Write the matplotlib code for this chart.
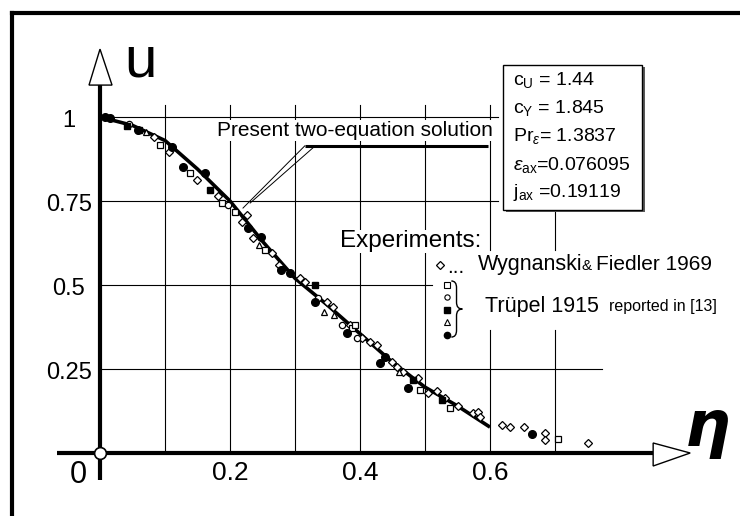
import matplotlib
matplotlib.use("Agg")
import matplotlib.pyplot as plt
from matplotlib.patches import Polygon, Rectangle, PathPatch
from matplotlib.path import Path
from matplotlib.lines import Line2D

plt.rcParams["font.family"] = ["Liberation Sans", "DejaVu Sans"]
plt.rcParams["mathtext.fontset"] = "custom"
plt.rcParams["mathtext.rm"] = "Liberation Sans"
plt.rcParams["mathtext.it"] = "Liberation Sans:italic"

# two-equation solution
eta_sol = [0.0, 0.05, 0.10, 0.15, 0.20, 0.25, 0.30, 0.35, 0.40, 0.45, 0.50, 0.55, 0.60]
u_sol = [1.0, 0.975, 0.93, 0.845, 0.75, 0.63, 0.52, 0.44, 0.355, 0.27, 0.196, 0.14, 0.077]

# Wygnanski & Fiedler 1969 (small open diamonds)
wyg_eta = [0.083, 0.106, 0.149, 0.182, 0.226, 0.218, 0.236, 0.265, 0.275, 0.308, 0.315,
           0.349, 0.358, 0.385, 0.403, 0.415, 0.426, 0.449, 0.457, 0.466, 0.489, 0.505,
           0.518, 0.531, 0.551, 0.574, 0.582, 0.585, 0.618, 0.631, 0.652, 0.685, 0.685, 0.75]
wyg_u = [0.94, 0.896, 0.812, 0.765, 0.708, 0.688, 0.64, 0.595, 0.56, 0.52, 0.51,
         0.449, 0.435, 0.381, 0.342, 0.33, 0.321, 0.271, 0.256, 0.241, 0.223, 0.179,
         0.185, 0.164, 0.14, 0.119, 0.122, 0.107, 0.083, 0.077, 0.077, 0.06, 0.04, 0.03]

# Truepel 1915, five symbol sets
sq_eta = [0.092, 0.138, 0.188, 0.208, 0.254, 0.387, 0.392, 0.492, 0.538, 0.705]
sq_u = [0.917, 0.833, 0.744, 0.717, 0.604, 0.371, 0.381, 0.187, 0.134, 0.042]
circ_eta = [0.045, 0.197, 0.335, 0.395, 0.372]
circ_u = [0.98, 0.737, 0.46, 0.342, 0.38]
fsq_eta = [0.042, 0.06, 0.169, 0.33, 0.482, 0.526]
fsq_u = [0.973, 0.962, 0.783, 0.5, 0.217, 0.158]
tri_eta = [0.07, 0.245, 0.345, 0.46, 0.36]
tri_u = [0.955, 0.62, 0.42, 0.24, 0.41]
fcirc_eta = [0.008, 0.015, 0.058, 0.11, 0.128, 0.162, 0.228, 0.248, 0.278, 0.292,
             0.331, 0.38, 0.43, 0.438, 0.474, 0.665]
fcirc_u = [1.0, 0.997, 0.96, 0.91, 0.851, 0.833, 0.67, 0.643, 0.545, 0.536,
           0.449, 0.357, 0.268, 0.286, 0.193, 0.056]

params = [r"c$_{\mathrm{U}}$ = 1.44", r"c$_{\mathrm{Y}}$ = 1.845", r"Pr$_{\epsilon}$= 1.3837",
          r"$\varepsilon_{\mathrm{ax}}$=0.076095", r"j$_{\mathrm{ax}}$ =0.19119"]
xticks = [0.2, 0.4, 0.6]
xtick_labels = ["0.2", "0.4", "0.6"]
yticks = [1.0, 0.75, 0.5, 0.25]
ytick_labels = ["1", "0.75", "0.5", "0.25"]

fig = plt.figure(figsize=(7.4, 5.16), dpi=100)
ax = fig.add_axes([0, 0, 1, 1])
# pixel mapping: eta=(px-100)/650, u=(453-py)/336
ax.set_xlim(-100 / 650, 640 / 650)
ax.set_ylim(-63 / 336, 453 / 336)
ax.axis("off")

k = "black"
gl = dict(color=k, lw=0.8, zorder=1)
# grid: horizontal
ax.plot([0, 0.612], [1, 1], **gl)
ax.plot([0, 0.612], [0.75, 0.75], **gl)
ax.plot([0, 0.511], [0.5, 0.5], **gl)
ax.plot([0, 0.772], [0.25, 0.25], **gl)
# grid: vertical
for x in [0.1, 0.2, 0.3, 0.4, 0.5]:
    ax.plot([x, x], [0, 1.036], **gl)
ax.plot([0.6, 0.6], [0.604, 1.036], **gl)
ax.plot([0.6, 0.6], [0, 0.366], **gl)
ax.plot([0.7, 0.7], [0.604, 0.723], **gl)
ax.plot([0.7, 0.7], [0, 0.366], **gl)

# axes with open arrows
ax.plot([0, 0], [-0.08, 1.095], color=k, lw=3.0, zorder=3, solid_capstyle="butt")
ax.plot([-0.066, 0.851], [0, 0], color=k, lw=3.0, zorder=3, solid_capstyle="butt")
ax.add_patch(Polygon([(-0.0169, 1.095), (0.0185, 1.095), (0, 1.202)], closed=True,
                     fc="white", ec=k, lw=1.0, zorder=4))
ax.add_patch(Polygon([(0.851, 0.0298), (0.851, -0.0387), (0.908, 0)], closed=True,
                     fc="white", ec=k, lw=1.0, zorder=4))
ax.plot([0], [0], "o", ms=8.5, mfc="white", mec=k, mew=1.2, zorder=6)

ax.text(0.0615, 1.164, "u", fontsize=42, ha="center", va="center")
ax.text(0.934, 0.075, "η", fontsize=46, style="italic", weight="bold",
        family=["DejaVu Sans"], ha="center", va="center")

for x, lab in zip(xticks, xtick_labels):
    ax.text(x, -0.06, lab, fontsize=19, ha="center", va="center")
ax.text(-0.033, -0.065, "0", fontsize=22, ha="center", va="center")
for y, lab in zip(yticks, ytick_labels):
    ax.text(-0.0477, y - 0.012, lab, fontsize=17, ha="center", va="center")

# solution curve and experiments
ax.plot(eta_sol, u_sol, color=k, lw=2.6, zorder=5, solid_capstyle="butt")
ax.plot(wyg_eta, wyg_u, "D", ms=3.8, mfc="white", mec=k, mew=0.9, ls="none", zorder=6)
ax.plot(sq_eta, sq_u, "s", ms=5, mfc="white", mec=k, mew=0.9, ls="none", zorder=6)
ax.plot(circ_eta, circ_u, "o", ms=4.5, mfc="white", mec=k, mew=0.9, ls="none", zorder=6)
ax.plot(fsq_eta, fsq_u, "s", ms=5, mfc=k, mec=k, ls="none", zorder=6)
ax.plot(tri_eta, tri_u, "^", ms=4.5, mfc="white", mec=k, mew=0.9, ls="none", zorder=6)
ax.plot(fcirc_eta, fcirc_u, "o", ms=5.5, mfc=k, mec=k, ls="none", zorder=6)

# label for the solution
ax.text(0.18, 0.96, "Present two-equation solution", fontsize=15, ha="left", va="center",
        zorder=7, bbox=dict(fc="white", ec="none", pad=0.5))
ax.plot([0.315, 0.597], [0.914, 0.914], color=k, lw=2.2, zorder=7, solid_capstyle="butt")
ax.plot([0.315, 0.22], [0.914, 0.729], color=k, lw=0.7, zorder=7)
ax.plot([0.331, 0.231], [0.914, 0.744], color=k, lw=0.7, zorder=7)

# parameter box with shadow
ax.add_patch(Rectangle((0.624, 0.718), 0.214, 0.432, fc="0.35", ec="none", zorder=7))
ax.add_patch(Rectangle((0.62, 0.723), 0.214, 0.432, fc="white", ec=k, lw=1.0, zorder=8))
for i, s in enumerate(params):
    ax.text(0.636, 1.11 - i * 0.0838, s, fontsize=14, ha="left", va="center", zorder=9)

# experiments legend
ax.text(0.369, 0.63, "Experiments:", fontsize=17.5, ha="left", va="center", zorder=7,
        bbox=dict(fc="white", ec="none", pad=0.5))
ax.plot([0.5233], [0.56], "D", ms=3.8, mfc="white", mec=k, mew=0.9, zorder=8)
ax.text(0.5475, 0.553, "...", fontsize=15, ha="center", va="center", zorder=8)
ax.text(0.581, 0.56, "Wygnanski", fontsize=15.5, ha="left", va="center", zorder=8)
ax.text(0.74, 0.556, "&", fontsize=11, ha="left", va="center", zorder=8)
ax.text(0.7625, 0.56, "Fiedler 1969", fontsize=15, ha="left", va="center", zorder=8)
lx = 0.5338
ax.plot([lx], [0.50], "s", ms=4, mfc="white", mec=k, mew=0.8, zorder=8)
ax.plot([lx], [0.464], "o", ms=3.8, mfc="white", mec=k, mew=0.8, zorder=8)
ax.plot([lx], [0.426], "s", ms=4, mfc=k, mec=k, zorder=8)
ax.plot([lx], [0.390], "^", ms=4, mfc="white", mec=k, mew=0.8, zorder=8)
ax.plot([lx], [0.351], "o", ms=4.5, mfc=k, mec=k, zorder=8)

# brace grouping the Truepel symbols
bx, by0, by1 = 0.5485, 0.512, 0.345
bm = 0.5 * (by0 + by1)
brace = Path([(bx - 0.008, by0), (bx, by0), (bx, by0 - 0.02),
              (bx, bm + 0.02),
              (bx, bm), (bx + 0.009, bm),
              (bx, bm), (bx, bm - 0.02),
              (bx, by1 + 0.02),
              (bx, by1), (bx - 0.008, by1)],
             [Path.MOVETO, Path.CURVE3, Path.CURVE3, Path.LINETO,
              Path.CURVE3, Path.CURVE3, Path.CURVE3, Path.CURVE3,
              Path.LINETO, Path.CURVE3, Path.CURVE3])
ax.add_patch(PathPatch(brace, fc="none", ec=k, lw=1.0, zorder=8))

ax.text(0.592, 0.435, "Trüpel 1915", fontsize=15.5, ha="left", va="center", zorder=8)
ax.text(0.783, 0.437, "reported in [13]", fontsize=11.5, ha="left", va="center", zorder=8)

# outer frame
fig.add_artist(Line2D([12 / 740, 1], [1 - 13 / 516] * 2, color=k, lw=3))
fig.add_artist(Line2D([12 / 740] * 2, [0, 1 - 13 / 516], color=k, lw=3))

fig.savefig("out.png", dpi=100)
